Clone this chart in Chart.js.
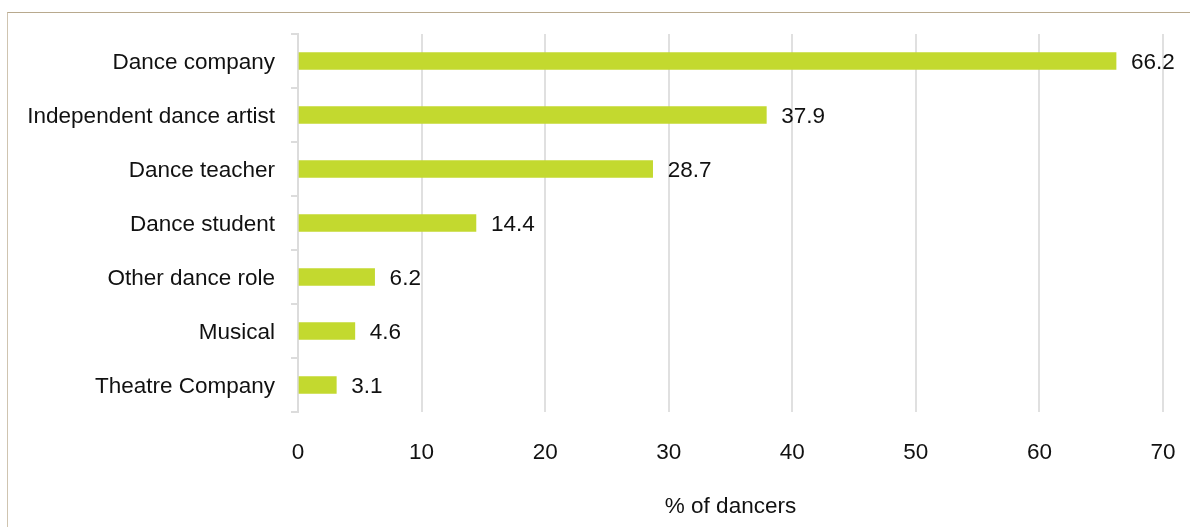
<!DOCTYPE html>
<html>
<head>
<meta charset="utf-8">
<script src="https://cdn.jsdelivr.net/npm/chart.js@4"></script>
<style>
  html, body { margin: 0; padding: 0; background: #fff; }
  #wrap { position: relative; width: 1190px; height: 527px; }
  #frame { position: absolute; left: 7px; top: 12px; right: 0; bottom: 0;
           border-top: 1px solid #b8a98e; border-left: 1px solid #cfc4b0; }
  canvas { position: absolute; left: 0; top: 0; }
</style>
</head>
<body>
<div id="wrap">
  <div id="frame"></div>
  <canvas id="myChart" width="1190" height="527"></canvas>
</div>
<script>
const roles = ['Dance company', 'Independent dance artist', 'Dance teacher', 'Dance student', 'Other dance role', 'Musical', 'Theatre Company'];
const percents = [66.2, 37.9, 28.7, 14.4, 6.2, 4.6, 3.1];
const xTicks = [0, 10, 20, 30, 40, 50, 60, 70];

const FONT = "'Liberation Sans', Arial, Helvetica, sans-serif";
const SIZE = 22.5;

// draws the value after the end of each bar
const valueLabels = {
    id: 'valueLabels',
    afterDatasetsDraw(chart) {
        const ctx = chart.ctx;
        const meta = chart.getDatasetMeta(0);
        ctx.save();
        ctx.font = SIZE + 'px ' + FONT;
        ctx.fillStyle = '#111';
        ctx.textAlign = 'left';
        ctx.textBaseline = 'middle';
        meta.data.forEach((bar, i) => {
            ctx.fillText(percents[i].toFixed(1), bar.x + 15, bar.y + 2);
        });
        ctx.restore();
    }
};

const chart_roles = document.getElementById("myChart");

new Chart(chart_roles, {
    type: 'bar',
    data: {
        labels: roles,
        datasets: [{
            data: percents,
            backgroundColor: '#c3d92f',
            barThickness: 17
        }]
    },
    options: {
        indexAxis: 'y',
        responsive: false,
        animation: false,
        layout: { padding: { left: 0, right: 27, top: 34, bottom: 0 } },
        plugins: {
            legend: { display: false },
            tooltip: { enabled: false }
        },
        scales: {
            x: {
                min: 0,
                max: 70,
                afterBuildTicks: axis => { axis.ticks = xTicks.map(v => ({ value: v })); },
                afterFit: axis => { axis.height = 115; axis.paddingLeft = 0; axis.paddingRight = 0; },
                grid: { color: '#e0e0e0', lineWidth: 2, drawTicks: false },
                border: { display: false },
                ticks: { color: '#111', font: { family: FONT, size: SIZE }, padding: 27 },
                title: {
                    display: true,
                    text: '% of dancers',
                    color: '#111',
                    font: { family: FONT, size: SIZE },
                    padding: { top: 0, bottom: 7 }
                }
            },
            y: {
                afterFit: axis => { axis.width = 298; axis.paddingTop = 0; axis.paddingBottom = 0; },
                grid: { color: '#dcdcdc', lineWidth: 2, drawOnChartArea: false, drawTicks: true, tickLength: 7, offset: true },
                border: { display: true, color: '#dcdcdc', width: 2 },
                ticks: { color: '#111', font: { family: FONT, size: SIZE }, padding: 16, labelOffset: 2 }
            }
        }
    },
    plugins: [valueLabels]
});
</script>
</body>
</html>
